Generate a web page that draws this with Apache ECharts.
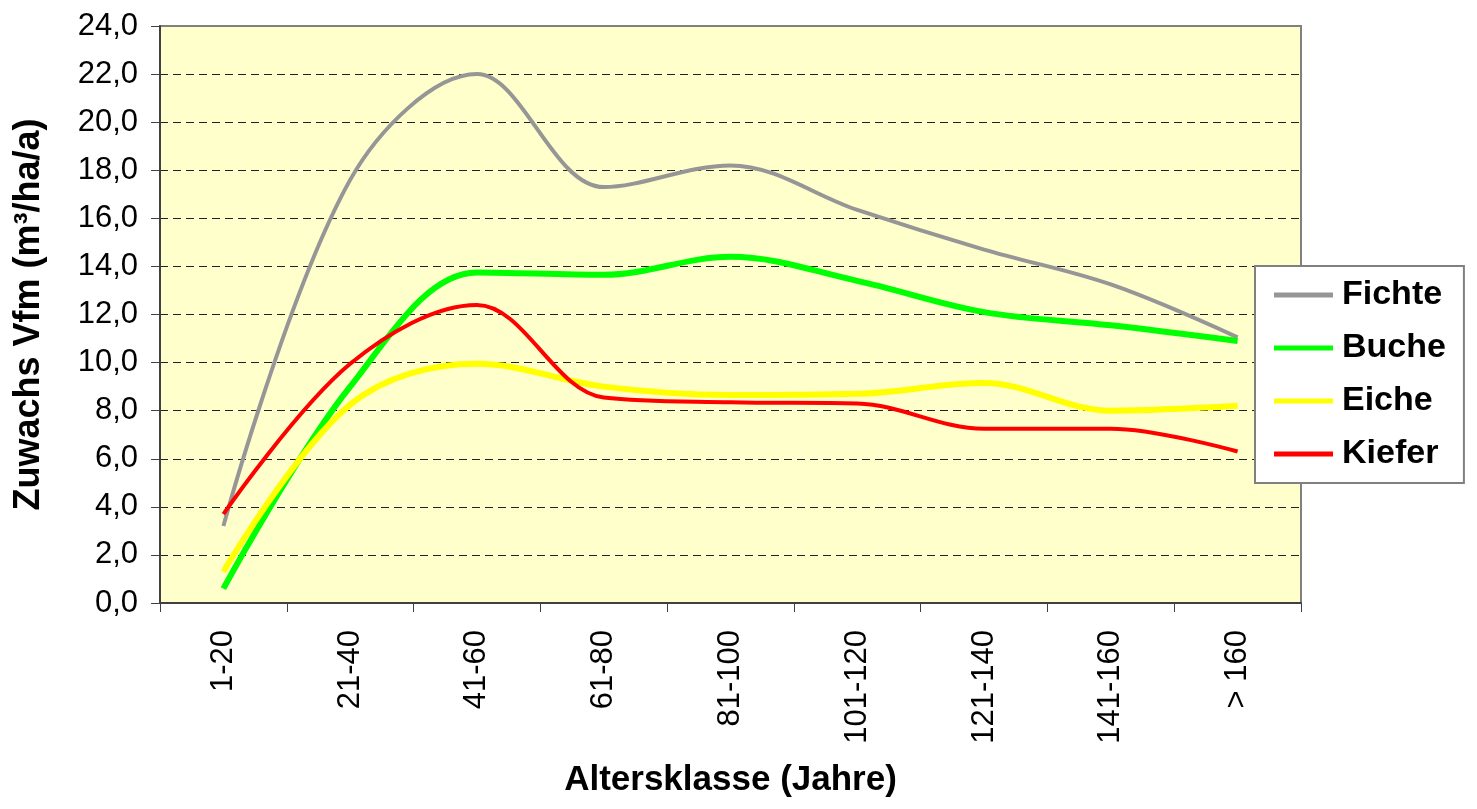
<!DOCTYPE html>
<html><head><meta charset="utf-8">
<script src="https://cdn.jsdelivr.net/npm/echarts@6/dist/echarts.min.js"></script>
<style>html,body{margin:0;padding:0;background:#fff}#c{width:1477px;height:809px}</style>
</head><body><div id="c"></div>
<script>
// ---- data ----
const categories = ['1-20', '21-40', '41-60', '61-80', '81-100', '101-120', '121-140', '141-160', '> 160'];
const fichte = [3.2, 17.6, 22.0, 17.3, 18.2, 16.35, 14.7, 13.25, 11.05];
const buche  = [0.6, 9.0, 13.75, 13.65, 14.4, 13.4, 12.1, 11.55, 10.9];
const eiche  = [1.3, 8.25, 9.95, 9.0, 8.65, 8.7, 9.15, 8.0, 8.2];
const kiefer = [3.7, 9.95, 12.4, 8.55, 8.35, 8.3, 7.25, 7.25, 6.3];
const seriesNames = ['Fichte', 'Buche', 'Eiche', 'Kiefer'];
const yMin = 0, yMax = 24, yInterval = 2;
const xTitle = 'Altersklasse (Jahre)';
const yTitle = 'Zuwachs Vfm (m³/ha/a)';

// ---- styles ----
const FONT = 'Liberation Sans, Arial, sans-serif';
const colors = ['#969696', '#00FF00', '#FFFF00', '#FF0000'];
const widths = [4, 6, 6, 4];
const values = [fichte, buche, eiche, kiefer];

const chart = echarts.init(document.getElementById('c'), null, {renderer: 'canvas'});
chart.setOption({
  animation: false,
  backgroundColor: '#ffffff',
  grid: {
    left: 160, right: 176, top: 26, bottom: 206,
    show: true, backgroundColor: '#FFFFCC', borderColor: '#808080', borderWidth: 2
  },
  legend: {
    orient: 'vertical',
    left: 1255, top: 266,
    padding: [12, 18, 12, 19],
    itemGap: 19,
    itemWidth: 59, itemHeight: 5,
    icon: 'rect',
    backgroundColor: '#ffffff',
    borderColor: '#808080', borderWidth: 2,
    textStyle: {fontFamily: FONT, fontWeight: 'bold', fontSize: 34, color: '#000', lineHeight: 33, padding: [0, 0, 0, 4]},
    data: seriesNames.map((n, i) => ({name: n, itemStyle: {color: colors[i]}}))
  },
  xAxis: {
    type: 'category',
    data: categories,
    boundaryGap: true,
    axisLine: {lineStyle: {color: '#404040', width: 2}},
    axisTick: {show: true, length: 9, alignWithLabel: false, lineStyle: {color: '#404040', width: 1}},
    axisLabel: {rotate: 90, margin: 27, fontFamily: FONT, fontSize: 31, color: '#000', interval: 0},
    name: xTitle,
    nameLocation: 'middle',
    nameGap: 160,
    nameTextStyle: {fontFamily: FONT, fontWeight: 'bold', fontSize: 35, color: '#000'}
  },
  yAxis: {
    type: 'value',
    min: yMin, max: yMax, interval: yInterval,
    axisLine: {show: true, lineStyle: {color: '#404040', width: 2}},
    axisTick: {show: true, length: 9, lineStyle: {color: '#404040', width: 1}},
    axisLabel: {margin: 22, fontFamily: FONT, fontSize: 31, color: '#000',
      formatter: v => v.toFixed(1).replace('.', ',')},
    splitLine: {show: true, showMinLine: false, showMaxLine: false,
      lineStyle: {color: '#222', width: 1, type: [8, 5]}},
    name: yTitle,
    nameLocation: 'middle',
    nameGap: 113,
    nameTextStyle: {fontFamily: FONT, fontWeight: 'bold', fontSize: 36, color: '#000'}
  },
  series: seriesNames.map((n, i) => ({
    name: n,
    type: 'line',
    data: values[i],
    smooth: 0.35,
    symbol: 'none',
    showSymbol: false,
    color: colors[i],
    lineStyle: {color: colors[i], width: widths[i], cap: 'butt', join: 'round'}
  }))
});
</script></body></html>
